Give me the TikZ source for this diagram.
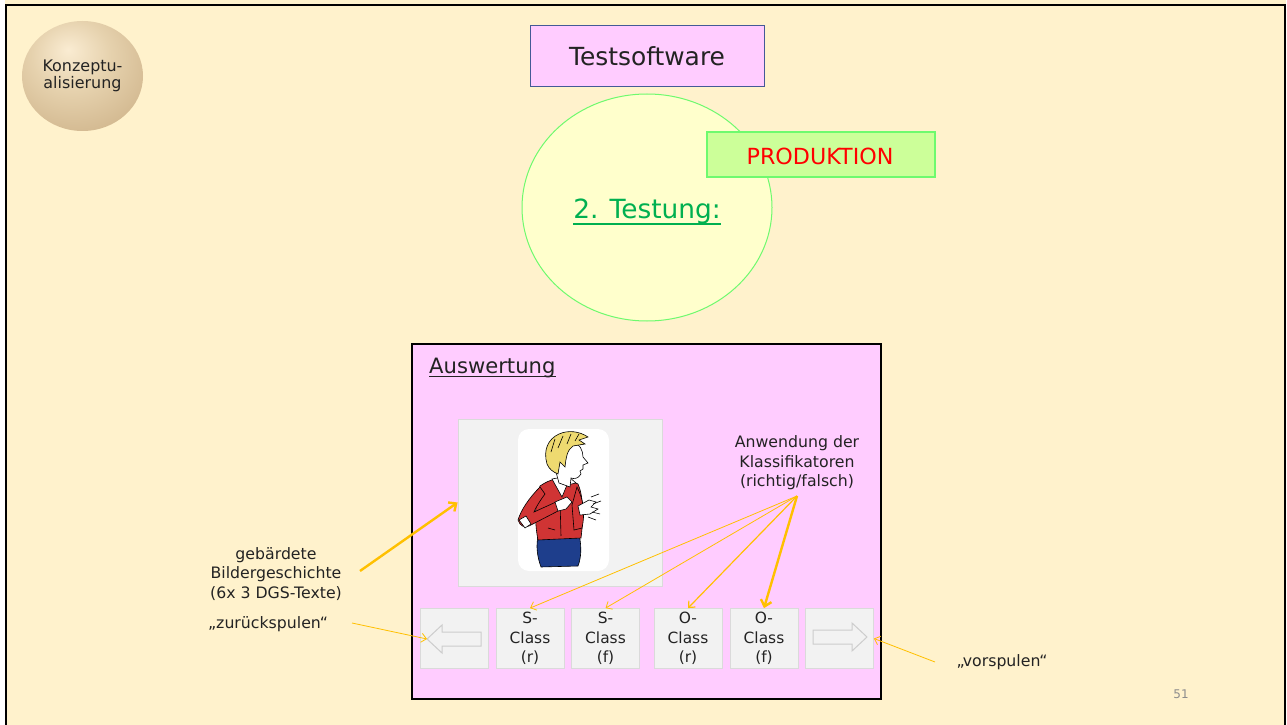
\documentclass[tikz,border=0pt]{standalone}
\usepackage{fontspec}
\setmainfont{DejaVu Sans}
\usetikzlibrary{arrows.meta,shapes.geometric}

\definecolor{cream}{RGB}{255,242,204}
\definecolor{pinkbox}{RGB}{255,204,255}
\definecolor{tsblue}{RGB}{68,90,150}
\definecolor{lyellow}{RGB}{255,255,204}
\definecolor{lgreen}{RGB}{110,250,110}
\definecolor{prodgreen}{RGB}{204,255,153}
\definecolor{testgreen}{RGB}{0,176,80}
\definecolor{orangearrow}{RGB}{255,192,0}
\definecolor{panelgray}{RGB}{242,242,242}
\definecolor{panelline}{RGB}{218,218,218}
\definecolor{iconline}{RGB}{205,205,205}
\definecolor{textc}{RGB}{35,35,35}
\definecolor{pagegray}{RGB}{140,140,140}
\definecolor{shirtred}{RGB}{208,52,52}
\definecolor{pantsblue}{RGB}{30,62,140}
\definecolor{hair}{RGB}{238,218,112}
\definecolor{sphA}{RGB}{250,236,210}
\definecolor{sphB}{RGB}{230,210,174}
\definecolor{sphC}{RGB}{204,176,134}
\definecolor{sphD}{RGB}{184,154,112}

\pgfdeclareradialshading{sphere}{\pgfpoint{-6bp}{12bp}}{%
  color(0bp)=(sphA); color(16bp)=(sphB); color(40bp)=(sphC);
  color(58bp)=(sphD); color(80bp)=(sphD)}

\tikzset{
  btn/.style={draw=panelline, fill=panelgray, line width=0.8bp,
    minimum width=68bp, minimum height=60bp, inner sep=0pt, align=center,
    text=textc, font=\fontsize{15.5}{19.5}\selectfont},
  lbl/.style={align=center, text=textc, font=\fontsize{15.8}{19.5}\selectfont, inner sep=2pt},
  thinarr/.style={draw=orangearrow, line width=0.8bp,
    -{Straight Barb[length=5bp,width=9bp]}},
  thickarr/.style={draw=orangearrow, line width=2.4bp,
    -{Straight Barb[length=6bp,width=11bp]}},
  icon/.style={draw=iconline, line width=1bp},
  figline/.style={draw=black, line width=0.6bp}
}

\begin{document}
\begin{tikzpicture}[x=1bp,y=-1bp]
\useasboundingbox (0,0) rectangle (1287,725);
% slide background and frame
\fill[cream] (0,0) rectangle (1287,725);
\fill[white] (0,0) rectangle (5,725);
\fill[white] (1285.5,0) rectangle (1287,725);
\draw[line width=2bp] (6,725) -- (6,5.5) -- (1284.5,5.5) -- (1284.5,725);

% round badge
\node[ellipse, shading=sphere, minimum width=121bp, minimum height=110bp,
  inner sep=0pt, align=center, text=textc,
  font=\fontsize{16}{17}\selectfont] (konz) at (82.5,76) {Konzeptu-\\alisierung};

% title box
\node[draw=tsblue, fill=pinkbox, line width=1bp, minimum width=234bp,
  minimum height=61bp, text=textc, font=\fontsize{25}{28}\selectfont] (ts) at (647,56.5) {Testsoftware};

% test phase circle
\node[ellipse, draw=lgreen, fill=lyellow, line width=1bp, minimum width=250bp,
  minimum height=227bp, inner sep=0pt] (phase) at (647,207.5) {};
\node[text=testgreen, font=\fontsize{26.5}{30}\selectfont, inner sep=0pt, anchor=base] (testung) at (647,219)
  {2. Testung:};
\draw[testgreen, line width=2bp] ([yshift=-4.5bp]testung.base west) -- ([yshift=-4.5bp]testung.base east);

% production label
\node[draw=lgreen, fill=prodgreen, line width=1.3bp, minimum width=228bp,
  minimum height=45bp, inner sep=0pt] (prod) at (821,154.5) {};
\node[text=red, font=\fontsize{22.3}{25}\selectfont, anchor=base, inner sep=0pt] (prodtext) at (820,165) {PRODUKTION};

% evaluation window
\node[draw=black, fill=pinkbox, line width=1.2bp, minimum width=469bp,
  minimum height=355bp, inner sep=0pt] (ausw) at (646.5,521.5) {};
\node[anchor=base west, inner sep=0pt, text=textc, font=\fontsize{21.2}{25}\selectfont] (awtitle) at (429,373)
  {Auswertung};
\draw[textc, line width=1.2bp] ([yshift=-3.5bp]awtitle.base west) -- ([yshift=-3.5bp]awtitle.base east);

% video panel with card
\node[draw=panelline, fill=panelgray, line width=0.8bp, minimum width=204bp,
  minimum height=167bp, inner sep=0pt] (bild) at (560,502.5) {};
\node[fill=white, rounded corners=11bp, minimum width=91bp, minimum height=142bp,
  inner sep=0pt] (card) at (563.5,500) {};

% signing person
\begin{scope}[figline]
  % trousers
  \filldraw[fill=pantsblue] (538,536) -- (579,534) .. controls (582,548) and (581,558) .. (578,566)
    -- (541,567) .. controls (537,556) and (536,546) .. (538,536) -- cycle;
  % torso
  \filldraw[fill=shirtred] (540,486) .. controls (550,479) and (560,477) .. (567,479) -- (578,484)
    .. controls (583,495) and (584,515) .. (581,538) -- (538,540)
    .. controls (535,525) and (534,505) .. (540,486) -- cycle;
  \draw (560,500) -- (561,536);
  \draw (548,528) -- (555,530);
  % collar
  \filldraw[fill=white] (552,479) -- (562,497) -- (567,485) -- (576,483) -- (568,476) -- cycle;
  % arm at the side with open hand
  \filldraw[fill=shirtred] (577,487) .. controls (584,500) and (585,515) .. (582,528) -- (574,530) -- (572,505) -- cycle;
  \filldraw[fill=white] (578,506) -- (589,500) -- (596,502) -- (591,507) -- (598,509) -- (590,514) -- (580,515) -- cycle;
  \draw (591,497) -- (599,494);
  \draw (593,504) -- (601,501);
  \draw (592,512) -- (600,514);
  \draw (588,517) -- (596,520);
  % arm across the chest
  \filldraw[fill=shirtred] (540,487) .. controls (529,498) and (521,510) .. (518,520)
    .. controls (520,526) and (524,528) .. (529,526) -- (558,511) -- (556,502) -- (534,512)
    .. controls (537,505) and (542,498) .. (545,494) -- cycle;
  \filldraw[fill=white] (555,502) -- (567,497) -- (572,502) -- (566,509) -- (558,511) -- cycle;
  \filldraw[fill=white] (519,520) -- (526,516) -- (531,524) -- (525,528) -- cycle;
  % head
  \filldraw[fill=white] (556,472) .. controls (554,456) and (561,444) .. (572,442)
    .. controls (580,443) and (583,451) .. (583,457) -- (588,463) -- (583,465) -- (583,469)
    -- (580,471) -- (581,474) .. controls (578,479) and (574,479) .. (571,478)
    -- (570,487) -- (559,483) -- cycle;
  % hair
  \filldraw[fill=hair] (547,464) .. controls (543,450) and (548,439) .. (559,434)
    .. controls (568,430) and (579,431) .. (588,437) -- (579,440) -- (585,444) -- (573,446)
    .. controls (567,450) and (566,458) .. (565,467) -- (560,462) -- (558,474)
    .. controls (553,472) and (549,469) .. (547,464) -- cycle;
  \draw (555,439) -- (551,452);
  \draw (563,436) -- (558,448);
  \draw (571,434) -- (567,444);
  \draw (579,434) -- (575,441);
\end{scope}

% control buttons
\node[btn] (bback) at (454,638.5) {};
\node[btn] (sr) at (530,638.5) {S-\\Class\\(r)};
\node[btn] (sf) at (605.5,638.5) {S-\\Class\\(f)};
\node[btn] (or) at (688,638.5) {O-\\Class\\(r)};
\node[btn] (of) at (764,638.5) {O-\\Class\\(f)};
\node[btn] (bfwd) at (839.5,638.5) {};

% rewind / forward block arrows
\draw[icon] (427,639) -- (442,625) -- (442,632) -- (481,632) -- (481,646) -- (442,646) -- (442,653) -- cycle;
\draw[icon] (867,637) -- (852,623) -- (852,630) -- (813,630) -- (813,644) -- (852,644) -- (852,651) -- cycle;
\coordinate (backtip) at (427,639);

% annotations
\node[lbl] (anw) at (797,463) {Anwendung der\\Klassifikatoren\\(richtig/falsch)};
\node[lbl] (geb) at (276,574) {gebärdete\\Bildergeschichte\\(6x 3 DGS-Texte)};
\node[lbl] (zur) at (268,624) {„zurückspulen“};
\node[lbl] (vor) at (1002,662) {„vorspulen“};
\node[text=pagegray, font=\fontsize{12}{14}\selectfont] (page) at (1181,694) {51};

\coordinate (anwfoot) at (797,496);
\coordinate (gebend) at (360,571);
\coordinate (zurend) at (352,623);
\coordinate (vorend) at (935,662);

% connectors
\draw[thinarr] (anwfoot) -- (sr.north);
\draw[thinarr] (anwfoot) -- (sf.north);
\draw[thinarr, line width=1.2bp] (anwfoot) -- (or.north);
\draw[thickarr] (anwfoot) -- (of.north);
\draw[thickarr] (gebend) -- (bild.west);
\draw[thinarr] (zurend) -- (backtip);
\draw[thinarr] (vorend) -- (bfwd.east);
\end{tikzpicture}
\end{document}
